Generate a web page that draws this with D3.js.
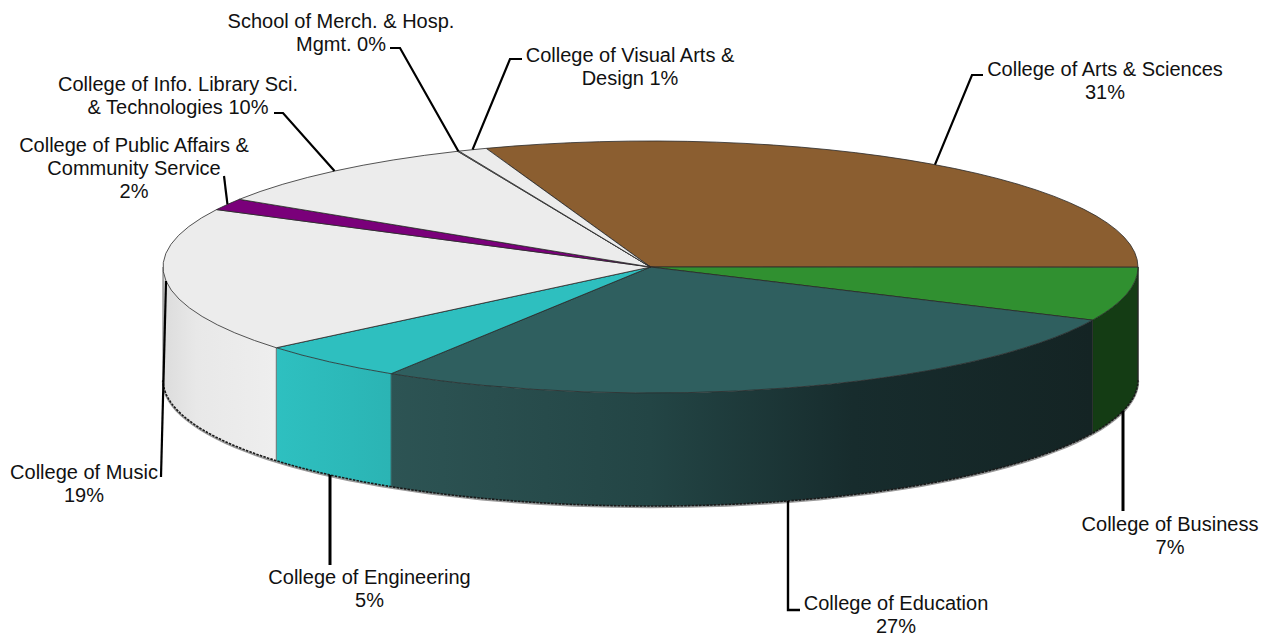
<!DOCTYPE html>
<html>
<head>
<meta charset="utf-8">
<script src="https://cdn.jsdelivr.net/npm/d3@7"></script>
<style>
html,body{margin:0;padding:0;background:#fff;overflow:hidden}
svg{display:block}
text{font-family:"Liberation Sans",Arial,sans-serif;font-size:20px;fill:#111;text-anchor:middle}
</style>
</head>
<body>
<svg id="chart" width="1271" height="637"></svg>
<script>
// --- data ---
const categories = ["College of Arts & Sciences","College of Business","College of Education","College of Engineering","College of Music","College of Public Affairs & Community Service","College of Info. Library Sci. & Technologies","School of Merch. & Hosp. Mgmt.","College of Visual Arts & Design"];
const shares = [30.5, 6.9, 27.0, 5.0, 18.6, 1.5, 9.5, 0.05, 0.95];
const topColors = ["#8b5e30","#309030","#2f5f5f","#2ebfbf","#ececec","#7a007a","#ececec","#ececec","#ececec"];
const labelLines = [
  ["College of Arts & Sciences","31%"],
  ["College of Business","7%"],
  ["College of Education","27%"],
  ["College of Engineering","5%"],
  ["College of Music","19%"],
  ["College of Public Affairs &","Community Service","2%"],
  ["College of Info. Library Sci.","& Technologies 10%"],
  ["School of Merch. & Hosp.","Mgmt. 0%"],
  ["College of Visual Arts &","Design 1%"]
];

// --- layout ---
const W = 1271, H = 637;
const cx = 650.5, cy = 267, rx = 487.5, ry = 126, depth = 113;
const startDeg = 340.3;
const labelLayout = [
  {x:1105, y:76,  w:2.2, nudge:0.5, elbow:[[972,75],[983,75]]},
  {x:1170, y:531, w:3,   drop:true, elbow:[[1123,511]]},
  {x:896,  y:610, w:2.4, drop:true, elbow:[[788,610],[800,610]]},
  {x:369.5,y:584, w:3,   drop:true, elbow:[[330,565]]},
  {x:84,   y:479, w:2.2, elbow:[[161,477]]},
  {x:134,  y:152, w:2.2, elbow:[[224,176]]},
  {x:178,  y:91,  w:2.2, elbow:[[283,113],[274,113]]},
  {x:341,  y:28,  w:2.2, elbow:[[400,48],[390,48]]},
  {x:630,  y:62,  w:2.2, elbow:[[510,59],[522,59]]}
];
const lineGap = 23;

const rad = d => d * Math.PI / 180;
const px = a => cx + rx * Math.sin(a);
const py = a => cy - ry * Math.cos(a);

const pie = d3.pie().sort(null).startAngle(rad(startDeg)).endAngle(rad(startDeg + 360));
const arcs = pie(shares);
const arcGen = d3.arc().innerRadius(0).outerRadius(rx);

const svg = d3.select("#chart");
const defs = svg.append("defs");
function grad(id, stops, x1, x2){
  const g = defs.append("linearGradient").attr("id", id).attr("gradientUnits","userSpaceOnUse")
    .attr("x1",x1).attr("x2",x2).attr("y1",0).attr("y2",0);
  stops.forEach(s => g.append("stop").attr("offset",s[0]).attr("stop-color",s[1]));
  return `url(#${id})`;
}
const wallFill = {
  1: "#143c14",
  2: grad("gEdu", [[0,"#2d5454"],[0.37,"#234545"],[0.66,"#172c2d"],[1,"#142424"]], 390, 1092),
  3: grad("gEng", [[0,"#2ec0c0"],[1,"#2bb4b4"]], 275, 390),
  4: grad("gMus", [[0,"#dcdcdc"],[0.3,"#e8e8e8"],[1,"#eeeeee"]], 163, 275)
};

// walls: the part of each slice on the front half of the ellipse
const frontLo = rad(450), frontHi = rad(630);
const lineGen = d3.line().x(d => d[0]).y(d => d[1]);
function rimPoints(a0, a1, dy){
  return d3.range(0, 81).map(i => {
    const a = a0 + (a1 - a0) * i / 80;
    return [px(a), py(a) + dy];
  });
}
const walls = arcs.map((d,i) => ({i, a0:Math.max(d.startAngle, frontLo), a1:Math.min(d.endAngle, frontHi)}))
  .filter(d => d.a1 > d.a0);

svg.append("path")
  .attr("d", lineGen(rimPoints(frontLo, frontHi, depth + 1)))
  .attr("fill","none").attr("stroke","#999").attr("stroke-width",2.4);

svg.append("g").selectAll("path").data(walls).join("path")
  .attr("d", d => lineGen(rimPoints(d.a0, d.a1, 0).concat(rimPoints(d.a0, d.a1, depth).reverse())) + "Z")
  .attr("fill", d => wallFill[d.i])
  .attr("stroke", d => wallFill[d.i])
  .attr("stroke-width", 0.5);

// wall edges between slices
svg.append("g").selectAll("line").data(walls).join("line")
  .attr("x1", d => px(d.a1)).attr("x2", d => px(d.a1))
  .attr("y1", d => py(d.a1)).attr("y2", d => py(d.a1) + depth)
  .attr("stroke", "#333").attr("stroke-opacity",0.65).attr("stroke-width",1);
svg.append("line")
  .attr("x1", px(frontLo)).attr("x2", px(frontLo))
  .attr("y1", py(frontLo)).attr("y2", py(frontLo) + depth)
  .attr("stroke","#222").attr("stroke-width",1);

// bottom rim
svg.append("path")
  .attr("d", lineGen(rimPoints(frontLo, frontHi, depth)))
  .attr("fill","none").attr("stroke","#1a1a1a").attr("stroke-width",1.6).attr("stroke-dasharray","2.5 1.2");

// top face
svg.append("g")
  .attr("transform", `translate(${cx},${cy}) scale(1,${ry/rx})`)
  .selectAll("path").data(arcs).join("path")
  .attr("d", arcGen)
  .attr("fill", (d,i) => topColors[i])
  .attr("stroke", "#2a2a2a")
  .attr("stroke-width", 0.8)
  .attr("vector-effect", "non-scaling-stroke");

// leader lines: from a slice's mid angle, or straight down from the front rim
const leader = arcs.map((d,i) => {
  const lay = labelLayout[i];
  const m = (d.startAngle + d.endAngle) / 2 + rad(lay.nudge || 0);
  let start = [px(m), py(m)];
  if (lay.drop) {
    const x = lay.elbow[0][0], u = (x - cx) / rx;
    start = [x, cy + depth + ry * Math.sqrt(1 - u * u)];
  }
  return {pts:[start].concat(lay.elbow), w:lay.w};
});
svg.append("g").selectAll("path").data(leader).join("path")
  .attr("d", d => lineGen(d.pts)).attr("fill","none").attr("stroke","#000")
  .attr("stroke-width",d => d.w).attr("stroke-linejoin","miter");

// labels
const lab = svg.append("g").selectAll("text").data(labelLines).join("text")
  .attr("transform", (d,i) => `translate(${labelLayout[i].x},${labelLayout[i].y})`);
lab.selectAll("tspan").data(d => d).join("tspan")
  .attr("x",0).attr("y",(d,i) => i * lineGap).text(d => d);
</script>
</body>
</html>
